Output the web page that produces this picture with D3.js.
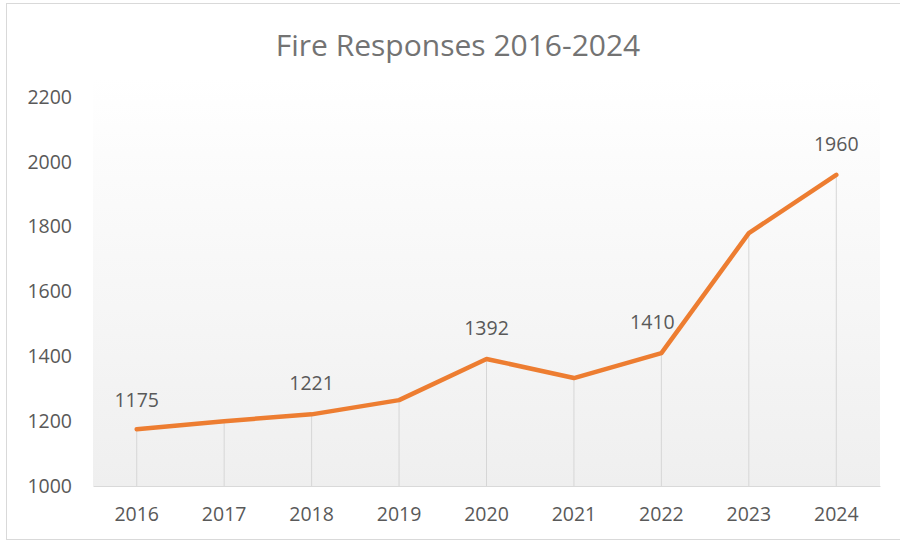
<!DOCTYPE html>
<html><head><meta charset="utf-8">
<script src="https://cdn.jsdelivr.net/npm/d3@7"></script>
<style>body{margin:0;background:#fff;}svg{display:block;}</style>
</head><body>
<svg id="chart" width="900" height="542"></svg>
<script>
const years = ["2016","2017","2018","2019","2020","2021","2022","2023","2024"];
const responses = [1175, 1200, 1221, 1265, 1392, 1333, 1410, 1780, 1960];
const labeledYears = ["2016","2018","2020","2022","2024"];
const yTicks = [1000, 1200, 1400, 1600, 1800, 2000, 2200];
const title = "Fire Responses 2016-2024";

const svg = d3.select("#chart");
const W = 900, H = 542;
const m = {left: 93, right: 20, top: 97, bottom: 56};
const font = "'Open Sans', sans-serif";

// outer frame
svg.append("rect").attr("x", 6.5).attr("y", 3.5).attr("width", 910).attr("height", 536)
  .attr("fill", "#fff").attr("stroke", "#d9d9d9").attr("stroke-width", 1);

const x = d3.scaleBand().domain(years).range([m.left, W - m.right]).padding(0);
const y = d3.scaleLinear().domain([1000, 2200]).range([H - m.bottom, m.top]);

// plot background gradient
const defs = svg.append("defs");
const grad = defs.append("linearGradient").attr("id", "bg").attr("x1", 0).attr("y1", 0).attr("x2", 0).attr("y2", 1);
grad.append("stop").attr("offset", "0%").attr("stop-color", "#ffffff");
grad.append("stop").attr("offset", "100%").attr("stop-color", "#efefef");
svg.append("rect").attr("x", m.left).attr("y", m.top - 20)
  .attr("width", W - m.right - m.left).attr("height", y(1000) - m.top + 20)
  .attr("fill", "url(#bg)");

// title
svg.append("text").attr("x", 458).attr("y", 56).attr("text-anchor", "middle")
  .attr("font-family", font).attr("font-size", 30).attr("fill", "#737373").text(title);

// y axis labels
const yAxis = d3.axisLeft(y).tickValues(yTicks).tickSize(0).tickPadding(0).tickFormat(d3.format("d"));
const yg = svg.append("g").attr("transform", `translate(72,0)`).call(yAxis);
yg.select(".domain").remove();
yg.selectAll("text").attr("font-family", font).attr("font-size", 19.5).attr("fill", "#595959");

// x axis
const xAxis = d3.axisBottom(x).tickSize(0).tickPadding(21);
const xg = svg.append("g").attr("transform", `translate(0,${y(1000)})`).call(xAxis);
xg.select(".domain").attr("stroke", "#d9d9d9");
xg.selectAll("text").attr("font-family", font).attr("font-size", 19.5).attr("fill", "#595959");

const cx = d => x(d) + x.bandwidth() / 2;

// drop lines
svg.append("g").selectAll("line").data(years).join("line")
  .attr("x1", d => cx(d)).attr("x2", d => cx(d))
  .attr("y1", (d, i) => y(responses[i])).attr("y2", y(1000))
  .attr("stroke", "#d6d6d6").attr("stroke-width", 1);

// line
const line = d3.line().x((d, i) => cx(years[i])).y(d => y(d));
svg.append("path").datum(responses).attr("d", line)
  .attr("fill", "none").attr("stroke", "#ED7D31").attr("stroke-width", 4.5)
  .attr("stroke-linejoin", "round").attr("stroke-linecap", "round");

// data labels
svg.append("g").selectAll("text").data(labeledYears).join("text")
  .attr("x", d => cx(d) - (d === "2022" ? 9 : 0))
  .attr("y", d => y(responses[years.indexOf(d)]) - (d === "2016" ? 22 : 24))
  .attr("text-anchor", "middle")
  .attr("font-family", font).attr("font-size", 19.5).attr("fill", "#595959")
  .text(d => responses[years.indexOf(d)]);
</script>
</body></html>
